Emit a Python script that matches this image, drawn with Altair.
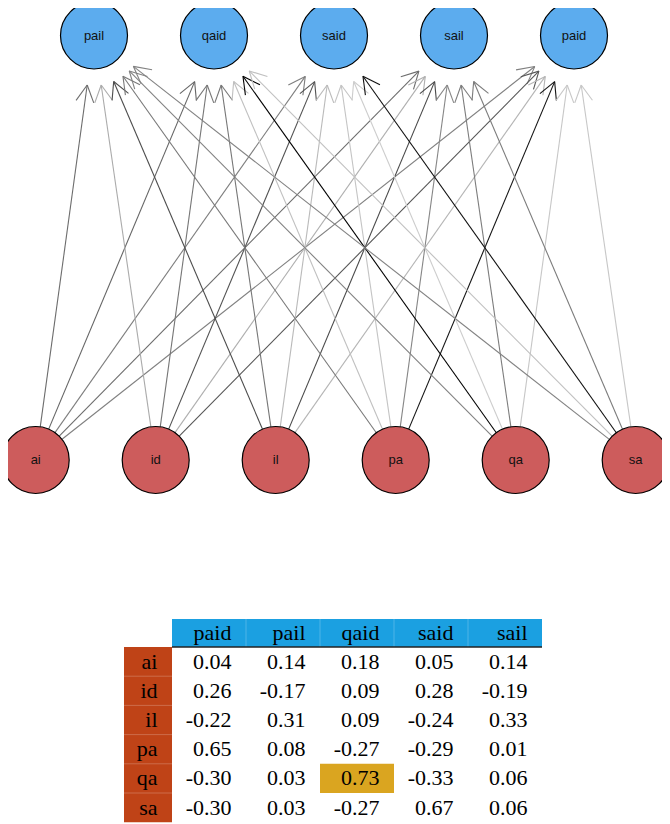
import math
import pandas as pd
import altair as alt

# ---------------- data ----------------
sources = ["ai", "id", "il", "pa", "qa", "sa"]
targets = ["paid", "pail", "qaid", "said", "sail"]          # table column order
graph_targets = ["pail", "qaid", "said", "sail", "paid"]    # order of the top row
weights = [
    [0.04, 0.14, 0.18, 0.05, 0.14],
    [0.26, -0.17, 0.09, 0.28, -0.19],
    [-0.22, 0.31, 0.09, -0.24, 0.33],
    [0.65, 0.08, -0.27, -0.29, 0.01],
    [-0.30, 0.03, 0.73, -0.33, 0.06],
    [-0.30, 0.03, -0.27, 0.67, 0.06],
]

# ---------------- layout constants (pixel-like coordinates) ----------------
W, H = 654, 816
TOP_Y, BOT_Y = 35.5, 460.0
TOP_X0, BOT_X0, STEP = 94.0, 35.7, 120.0
R = 33.5            # node radius
END_GAP = 50.0      # arrow tip distance from target centre
HEAD_LEN, HEAD_ANG = 19.0, math.radians(28)

TBL_LEFT, LABEL_W, COL_W = 124.0, 48.0, 74.0
HEAD_TOP, HEAD_H, ROW_H = 619.0, 28.0, 29.2
PAD_R = 14.5

xs = alt.Scale(domain=[8, 8 + W], nice=False, zero=False)
ys = alt.Scale(domain=[8, 8 + H], nice=False, zero=False, reverse=True)

# ---------------- edges ----------------
segs = []
for i, s in enumerate(sources):
    sx, sy = BOT_X0 + i * STEP, BOT_Y
    for j, t in enumerate(targets):
        k = graph_targets.index(t)
        tx, ty = TOP_X0 + k * STEP, TOP_Y
        w = weights[i][j]
        dx, dy = tx - sx, ty - sy
        L = math.hypot(dx, dy)
        ux, uy = dx / L, dy / L
        x0, y0 = sx + ux * R, sy + uy * R
        x1, y1 = tx - ux * END_GAP, ty - uy * END_GAP
        segs.append(dict(x=x0, y=y0, x2=x1, y2=y1, w=w))
        bx, by = -ux, -uy
        for a in (HEAD_ANG, -HEAD_ANG):
            rx = bx * math.cos(a) - by * math.sin(a)
            ry = bx * math.sin(a) + by * math.cos(a)
            segs.append(dict(x=x1, y=y1, x2=x1 + HEAD_LEN * rx, y2=y1 + HEAD_LEN * ry, w=w))
seg_df = pd.DataFrame(segs)

all_w = [v for row in weights for v in row]
wmin, wmax = min(all_w), max(all_w)

edges = alt.Chart(seg_df).mark_rule(strokeWidth=1.1).encode(
    x=alt.X("x:Q", scale=xs, axis=None),
    y=alt.Y("y:Q", scale=ys, axis=None),
    x2="x2:Q", y2="y2:Q",
    color=alt.Color("w:Q", scale=alt.Scale(domain=[wmin, wmax], range=["#cdcdcd", "#000000"]), legend=None),
)

# ---------------- nodes ----------------
nodes = pd.DataFrame(
    [dict(name=n, x=BOT_X0 + i * STEP, y=BOT_Y, grp="source") for i, n in enumerate(sources)]
    + [dict(name=n, x=TOP_X0 + k * STEP, y=TOP_Y, grp="target") for k, n in enumerate(graph_targets)]
)
node_marks = alt.Chart(nodes).mark_point(
    shape="circle", filled=True, size=(2 * R) ** 2, stroke="black", strokeWidth=1.2, opacity=1
).encode(
    x=alt.X("x:Q", scale=xs, axis=None),
    y=alt.Y("y:Q", scale=ys, axis=None),
    fill=alt.Fill("grp:N", scale=alt.Scale(domain=["source", "target"], range=["#CD5C5C", "#5CACEE"]), legend=None),
)
node_labels = alt.Chart(nodes).mark_text(
    font="Liberation Sans", fontSize=13, color="#111111", baseline="middle", align="center"
).encode(
    x=alt.X("x:Q", scale=xs, axis=None),
    y=alt.Y("y:Q", scale=ys, axis=None),
    text="name:N",
)

# ---------------- table ----------------
ncol, nrow = len(targets), len(sources)
col_left = TBL_LEFT + LABEL_W
tbl_right = col_left + ncol * COL_W
rows_top = HEAD_TOP + HEAD_H
rows_bottom = rows_top + nrow * ROW_H

def rect_df(x, x2, y, y2):
    return pd.DataFrame([dict(x=x, x2=x2, y=y, y2=y2)])

def rect_layer(df, color):
    return alt.Chart(df).mark_rect(color=color).encode(
        x=alt.X("x:Q", scale=xs, axis=None), x2="x2:Q",
        y=alt.Y("y:Q", scale=ys, axis=None), y2="y2:Q",
    )

header_rect = rect_layer(rect_df(col_left, tbl_right, HEAD_TOP, rows_top), "#1BA0E1")
rowhead_rect = rect_layer(rect_df(TBL_LEFT, col_left, rows_top, rows_bottom), "#BF4317")

# highlight the largest value
bi, bj = max(((i, j) for i in range(nrow) for j in range(ncol)), key=lambda p: weights[p[0]][p[1]])
hl_rect = rect_layer(
    rect_df(col_left + bj * COL_W, col_left + (bj + 1) * COL_W, rows_top + bi * ROW_H, rows_top + (bi + 1) * ROW_H),
    "#DAA520",
)

sep_rows = []
for j in range(1, ncol):
    sep_rows.append(dict(x=col_left + j * COL_W, x2=col_left + j * COL_W, y=HEAD_TOP, y2=rows_top))
for i in range(1, nrow):
    sep_rows.append(dict(x=TBL_LEFT, x2=col_left, y=rows_top + i * ROW_H, y2=rows_top + i * ROW_H))
seps = alt.Chart(pd.DataFrame(sep_rows)).mark_rule(color="white", opacity=0.22, strokeWidth=1).encode(
    x=alt.X("x:Q", scale=xs, axis=None), x2="x2:Q",
    y=alt.Y("y:Q", scale=ys, axis=None), y2="y2:Q",
)
head_line = alt.Chart(rect_df(col_left, tbl_right, rows_top, rows_top)).mark_rule(color="#222222", strokeWidth=1.3).encode(
    x=alt.X("x:Q", scale=xs, axis=None), x2="x2:Q",
    y=alt.Y("y:Q", scale=ys, axis=None), y2="y2:Q",
)

texts = []
for j, t in enumerate(targets):
    texts.append(dict(x=col_left + (j + 1) * COL_W - PAD_R, y=HEAD_TOP + HEAD_H / 2, label=t))
for i, s in enumerate(sources):
    yc = rows_top + (i + 0.5) * ROW_H
    texts.append(dict(x=col_left - PAD_R, y=yc, label=s))
    for j in range(ncol):
        texts.append(dict(x=col_left + (j + 1) * COL_W - PAD_R, y=yc, label=f"{weights[i][j]:.2f}"))
table_text = alt.Chart(pd.DataFrame(texts)).mark_text(
    font="Liberation Serif", fontSize=22, color="black", align="right", baseline="middle"
).encode(
    x=alt.X("x:Q", scale=xs, axis=None),
    y=alt.Y("y:Q", scale=ys, axis=None),
    text="label:N",
)

chart = alt.layer(
    edges, node_marks, node_labels,
    header_rect, rowhead_rect, hl_rect, seps, head_line, table_text,
).properties(
    width=W, height=H, padding=0, autosize=alt.AutoSizeParams(type="none"), background="white"
).configure_view(stroke=None)

chart.save("out.html", embed_options={"renderer": "svg", "actions": False})
